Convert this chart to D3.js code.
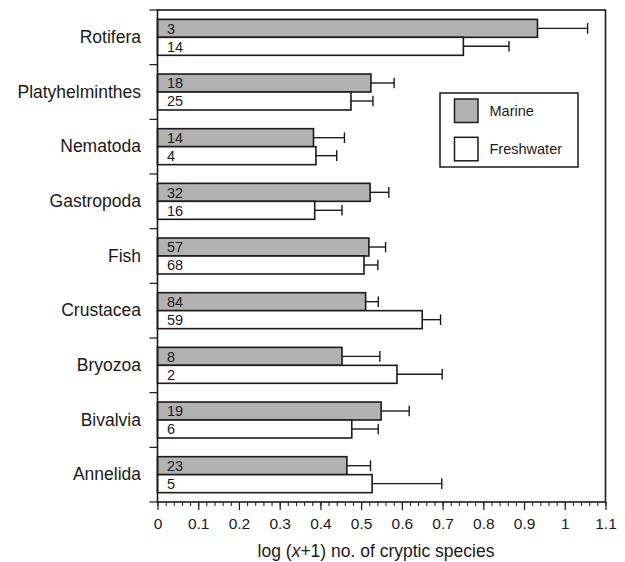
<!DOCTYPE html>
<html>
<head>
<meta charset="utf-8">
<script src="https://cdn.jsdelivr.net/npm/d3@7"></script>
<style>
  html, body { margin: 0; padding: 0; background: #fff; }
  svg { display: block; font-family: "Liberation Sans", Arial, Helvetica, sans-serif; }
</style>
</head>
<body>
<svg id="chart" width="625" height="562"></svg>
<script>
// Taxon groups, top to bottom
const categories = ["Rotifera", "Platyhelminthes", "Nematoda", "Gastropoda", "Fish",
                    "Crustacea", "Bryozoa", "Bivalvia", "Annelida"];
const seriesNames = ["Marine", "Freshwater"];

// Mean log(x+1) number of cryptic species
const marineMean     = [0.933, 0.524, 0.383, 0.522, 0.519, 0.511, 0.453, 0.549, 0.465];
const freshwaterMean = [0.751, 0.475, 0.389, 0.386, 0.507, 0.650, 0.588, 0.477, 0.527];
// Upper end of the error bars
const marineUpper     = [1.056, 0.581, 0.459, 0.568, 0.560, 0.542, 0.546, 0.618, 0.523];
const freshwaterUpper = [0.863, 0.529, 0.440, 0.453, 0.541, 0.695, 0.699, 0.542, 0.698];
// Sample sizes printed inside the bars
const marineN     = [3, 18, 14, 32, 57, 84, 8, 19, 23];
const freshwaterN = [14, 25, 4, 16, 68, 59, 2, 6, 5];

// Axis ticks
const xMajorTicks = [0, 0.1, 0.2, 0.3, 0.4, 0.5, 0.6, 0.7, 0.8, 0.9, 1, 1.1];
const xTickLabels = ["0", "0.1", "0.2", "0.3", "0.4", "0.5", "0.6", "0.7", "0.8", "0.9", "1", "1.1"];
const xMinorTicks = d3.range(0, 56).map(i => +(i * 0.02).toFixed(2));
const xTitleParts = ["log (", "x", "+1) no. of cryptic species"];

const fills = { Marine: "#b2b2b2", Freshwater: "#ffffff" };
const ink = "#1a1a1a";

const rows = categories.map((c, i) => ({
  cat: c,
  bars: [
    { s: "Marine", v: marineMean[i], up: marineUpper[i], n: marineN[i] },
    { s: "Freshwater", v: freshwaterMean[i], up: freshwaterUpper[i], n: freshwaterN[i] }
  ]
}));

const svg = d3.select("#chart");
const plotLeft = 157.5, plotRight = 605.5, plotTop = 10, plotBottom = 502;

const x = d3.scaleLinear().domain([0, 1.1]).range([plotLeft, plotRight]);
const y = d3.scaleBand().domain(categories).range([plotTop, plotBottom]).padding(0);
const ySub = d3.scaleBand().domain(seriesNames).range([0, y.bandwidth()])
  .paddingInner(0).paddingOuter(0.52);

// Bars
const groups = svg.append("g").selectAll("g").data(rows).join("g")
  .attr("transform", d => `translate(0,${y(d.cat)})`);

groups.selectAll("rect").data(d => d.bars).join("rect")
  .attr("x", x(0))
  .attr("y", d => ySub(d.s))
  .attr("width", d => x(d.v) - x(0))
  .attr("height", ySub.bandwidth())
  .attr("fill", d => fills[d.s])
  .attr("stroke", ink)
  .attr("stroke-width", 1.6);

// Error bars
const eb = groups.selectAll("g.err").data(d => d.bars).join("g").attr("class", "err")
  .attr("stroke", ink).attr("stroke-width", 1.4);
eb.append("line")
  .attr("x1", d => x(d.v)).attr("x2", d => x(d.up))
  .attr("y1", d => ySub(d.s) + ySub.bandwidth() / 2)
  .attr("y2", d => ySub(d.s) + ySub.bandwidth() / 2);
eb.append("line")
  .attr("x1", d => x(d.up)).attr("x2", d => x(d.up))
  .attr("y1", d => ySub(d.s) + ySub.bandwidth() / 2 - 5.3)
  .attr("y2", d => ySub(d.s) + ySub.bandwidth() / 2 + 5.3);

// Sample sizes
groups.selectAll("text.n").data(d => d.bars).join("text").attr("class", "n")
  .attr("x", x(0) + 9.5)
  .attr("y", d => ySub(d.s) + ySub.bandwidth() / 2 + 0.5)
  .attr("dominant-baseline", "central")
  .attr("font-size", 14.5)
  .attr("fill", ink)
  .text(d => d.n);

// Frame
svg.append("rect")
  .attr("x", plotLeft).attr("y", plotTop)
  .attr("width", plotRight - plotLeft).attr("height", plotBottom - plotTop)
  .attr("fill", "none").attr("stroke", ink).attr("stroke-width", 1.6);

// Left axis: category labels centred on bands, ticks on band boundaries
const yAxis = svg.append("g").attr("transform", `translate(${plotLeft},0)`)
  .call(d3.axisLeft(y).tickSize(0).tickPadding(16.5));
yAxis.select(".domain").remove();
yAxis.selectAll("text").attr("font-size", 17.5).attr("fill", ink).attr("font-family", null);

const boundaries = categories.map(c => y(c)).concat([plotBottom]);
svg.append("g").selectAll("line").data(boundaries).join("line")
  .attr("x1", plotLeft - 8).attr("x2", plotLeft)
  .attr("y1", d => d).attr("y2", d => d)
  .attr("stroke", ink).attr("stroke-width", 1.2);

// Bottom axis: minor and major ticks
const xMinor = svg.append("g").attr("transform", `translate(0,${plotBottom})`)
  .call(d3.axisBottom(x).tickValues(xMinorTicks).tickSize(4).tickFormat(""));
xMinor.select(".domain").remove();
xMinor.selectAll("line").attr("stroke", ink).attr("stroke-width", 1);

const xAxis = svg.append("g").attr("transform", `translate(0,${plotBottom})`)
  .call(d3.axisBottom(x).tickValues(xMajorTicks).tickSize(8).tickPadding(8)
    .tickFormat((d, i) => xTickLabels[i]));
xAxis.select(".domain").remove();
xAxis.selectAll("line").attr("stroke", ink).attr("stroke-width", 1.2);
xAxis.selectAll("text").attr("font-size", 15.5).attr("fill", ink).attr("font-family", null);

// Axis title
const title = svg.append("text")
  .attr("x", 376).attr("y", 557)
  .attr("text-anchor", "middle")
  .attr("font-size", 17.5)
  .attr("fill", ink);
title.selectAll("tspan").data(xTitleParts).join("tspan")
  .attr("font-style", (d, i) => i === 1 ? "italic" : null)
  .text(d => d);

// Legend
const lg = svg.append("g");
lg.append("rect")
  .attr("x", 440).attr("y", 93).attr("width", 138).attr("height", 74)
  .attr("fill", "#fff").attr("stroke", ink).attr("stroke-width", 1.5);
const items = lg.selectAll("g").data(seriesNames).join("g")
  .attr("transform", (d, i) => `translate(454.5,${99 + i * 38.3})`);
items.append("rect")
  .attr("width", 23.5).attr("height", 23.5)
  .attr("fill", d => fills[d]).attr("stroke", ink).attr("stroke-width", 1.5);
items.append("text")
  .attr("x", 35).attr("y", 12)
  .attr("dominant-baseline", "central")
  .attr("font-size", 14.5)
  .attr("fill", ink)
  .text(d => d);
</script>
</body>
</html>
